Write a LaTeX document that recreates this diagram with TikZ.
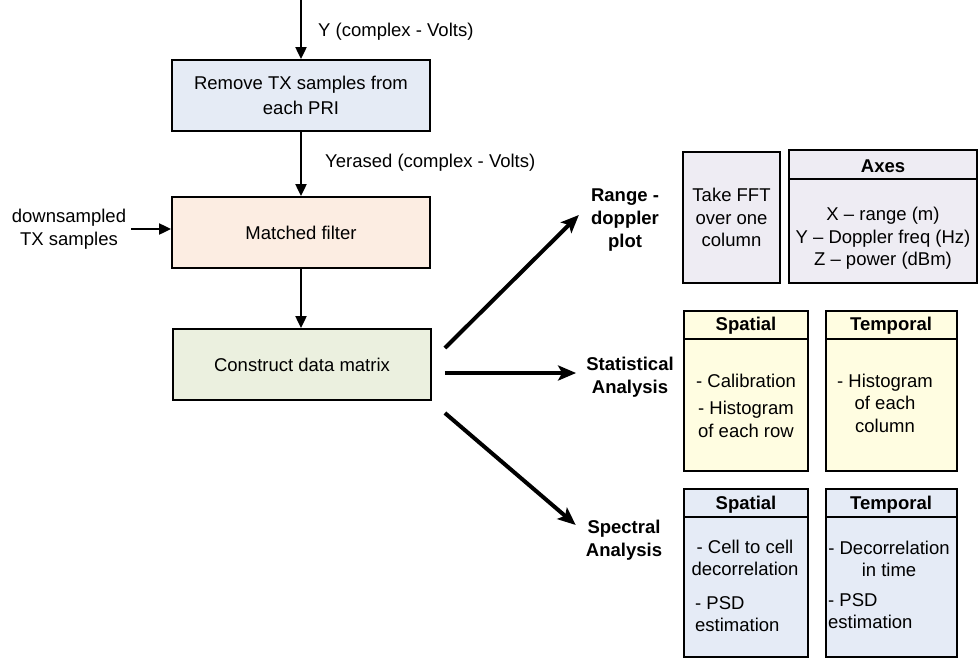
\documentclass[tikz,border=0pt]{standalone}
\usepackage{fontspec}
\setmainfont{Liberation Sans}
\usetikzlibrary{arrows.meta}
\definecolor{cblue}{HTML}{E5EBF5}
\definecolor{cpeach}{HTML}{FCEDE2}
\definecolor{cgreen}{HTML}{EBF0DF}
\definecolor{clav}{HTML}{EEECF3}
\definecolor{cyel}{HTML}{FFFDE1}
\definecolor{cspec}{HTML}{E5EBF6}
\begin{document}
\begin{tikzpicture}[x=1pt,y=-1pt,
  every node/.style={font=\fontsize{18.5}{22.5}\selectfont, inner sep=0pt},
  box/.style={draw=black, line width=1.8pt, inner sep=0pt, align=center},
  lbl/.style={font=\fontsize{18.5}{23}\selectfont\bfseries, align=center},
  hdr/.style={font=\fontsize{18.5}{22.5}\selectfont\bfseries},
  hline/.style={line width=1.2pt},
  thinarrow/.style={line width=2pt, -{Triangle[length=12pt,width=11pt]}},
  thickarrow/.style={line width=4pt, -{Stealth[length=18pt,width=15pt,inset=4pt]}}]
\useasboundingbox (0,0) rectangle (979,659);

% ---- left column ----
\coordinate (top) at (301,0);
\node[box, fill=cblue, minimum width=258pt, minimum height=71pt,
      font=\fontsize{18.5}{24.5}\selectfont] (b1) at (301,95.5) {Remove TX samples from\\each PRI};
\node[box, fill=cpeach, minimum width=258pt, minimum height=71pt] (b2) at (301,232.5) {Matched filter};
\node[box, fill=cgreen, minimum width=258pt, minimum height=71pt] (b3) at (302,364.5) {Construct data matrix};

\node[anchor=west] (ylbl) at (318,32) {Y (complex - Volts)};
\node[anchor=west] (yelbl) at (325,163) {Yerased (complex - Volts)};
\node[align=center] (ds) at (69,229) {downsampled\\TX samples};

\draw[thinarrow] (top) -- (b1.north);
\draw[thinarrow] (b1.south) -- (b2.north);
\draw[thinarrow] (b2.south) -- (b2.south |- b3.north);
\draw[thinarrow, shorten <=5pt] (ds.east) -- (ds.east -| b2.west);

% ---- branch labels ----
\node[lbl] (rd) at (625,220) {Range -\\doppler\\plot};
\node[lbl] (st) at (630,377.5) {Statistical\\Analysis};
\node[lbl] (sp) at (624,540) {Spectral\\Analysis};

\draw[thickarrow] ([xshift=13pt,yshift=16.5pt]b3.east) -- ([xshift=-12pt,yshift=5pt]rd.west);
\draw[thickarrow] ([xshift=13pt,yshift=-8.5pt]b3.east) -- ([xshift=-10pt,yshift=4.5pt]st.west);
\draw[thickarrow] ([xshift=13pt,yshift=-48.5pt]b3.east) -- ([xshift=-10pt,yshift=15pt]sp.west);

% ---- range-doppler boxes ----
\node[box, fill=clav, minimum width=97pt, minimum height=131pt] (fft) at (731.5,217.5) {Take FFT\\over one\\column};
\node[box, fill=clav, minimum width=188pt, minimum height=133pt] (axes) at (883,216.5) {};
\draw[hline] (789,179) -- (977,179);
\node[hdr] (axesh) at (883,166) {Axes};
\node[align=center] (axest) at (883,238.5) {X -- range (m)\\Y -- Doppler freq (Hz)\\Z -- power (dBm)};

% ---- statistical boxes ----
\node[box, fill=cyel, minimum width=124pt, minimum height=160pt] (sts) at (746,391) {};
\draw[hline] (684,339) -- (808,339);
\node[hdr] (stsh) at (746,326) {Spatial};
\node (stsa) at (746,381) {- Calibration};
\node[align=center] (stsb) at (746,419.5) {- Histogram\\of each row};

\node[box, fill=cyel, minimum width=131pt, minimum height=160pt] (stt) at (891.5,391) {};
\draw[hline] (826,339) -- (957,339);
\node[hdr] (stth) at (891,326) {Temporal};
\node[align=center] (stta) at (885,403) {- Histogram\\of each\\column};

% ---- spectral boxes ----
\node[box, fill=cspec, minimum width=124pt, minimum height=168pt] (sps) at (746,573) {};
\draw[hline] (684,517) -- (808,517);
\node[hdr] (spsh) at (746,505) {Spatial};
\node[align=center] (spsa) at (745,558) {- Cell to cell\\decorrelation};
\node[align=left, anchor=west] (spsb) at (695,614) {- PSD\\estimation};

\node[box, fill=cspec, minimum width=131pt, minimum height=168pt] (spt) at (891.5,573) {};
\draw[hline] (826,517) -- (957,517);
\node[hdr] (spth) at (891,505) {Temporal};
\node[align=center] (spta) at (889,559) {- Decorrelation\\in time};
\node[align=left, anchor=west] (sptb) at (828,611) {- PSD\\estimation};
\end{tikzpicture}
\end{document}
